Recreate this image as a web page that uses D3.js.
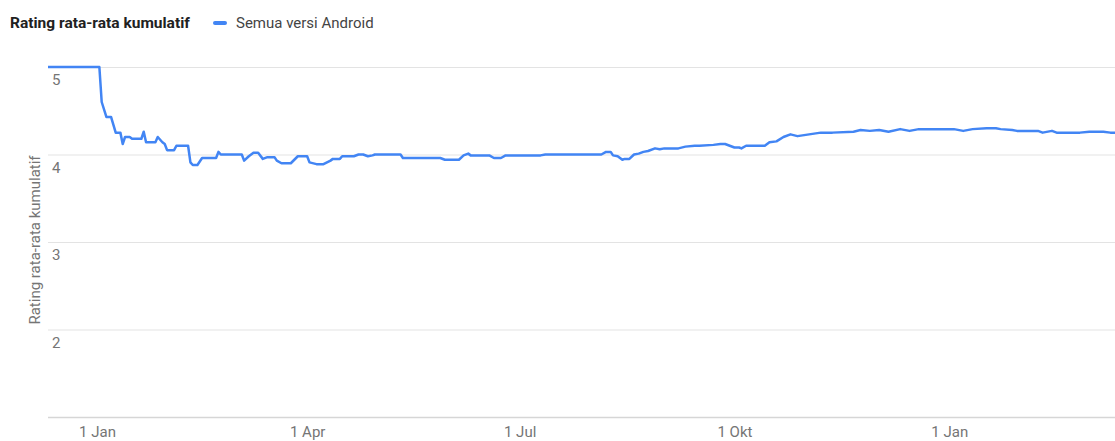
<!DOCTYPE html>
<html>
<head>
<meta charset="utf-8">
<script src="https://cdn.jsdelivr.net/npm/d3@7"></script>
<style>
  body { margin: 0; background: #fff; }
  svg { display: block; font-family: Roboto, Arial, sans-serif; }
</style>
</head>
<body>
<div id="chart"></div>
<script>
const canvas_w  =   1115;
const canvas_h  =   441;

// data
const dates = [
  '2018-12-11','2019-01-02','2019-01-03','2019-01-05','2019-01-07','2019-01-09','2019-01-11','2019-01-12',
  '2019-01-13','2019-01-15','2019-01-16','2019-01-20','2019-01-21','2019-01-22','2019-01-26','2019-01-27',
  '2019-01-29','2019-01-30','2019-01-31','2019-02-03','2019-02-04','2019-02-09','2019-02-10','2019-02-11',
  '2019-02-13','2019-02-14','2019-02-15','2019-02-21','2019-02-22','2019-02-23','2019-03-04','2019-03-05',
  '2019-03-07','2019-03-09','2019-03-11','2019-03-13','2019-03-15','2019-03-18','2019-03-19','2019-03-21',
  '2019-03-25','2019-03-28','2019-04-01','2019-04-02','2019-04-05','2019-04-08','2019-04-11','2019-04-12',
  '2019-04-15','2019-04-16','2019-04-21','2019-04-23','2019-04-25','2019-04-27','2019-04-29','2019-04-30',
  '2019-05-11','2019-05-12','2019-05-28','2019-05-30','2019-06-05','2019-06-07','2019-06-09','2019-06-10',
  '2019-06-18','2019-06-20','2019-06-23','2019-06-25','2019-07-10','2019-07-12','2019-08-05','2019-08-07',
  '2019-08-09','2019-08-10','2019-08-12','2019-08-14','2019-08-15','2019-08-17','2019-08-19','2019-08-21',
  '2019-08-23','2019-08-25','2019-08-28','2019-08-30','2019-09-01','2019-09-07','2019-09-10','2019-09-14',
  '2019-09-16','2019-09-22','2019-09-25','2019-09-27','2019-10-01','2019-10-03','2019-10-04','2019-10-06',
  '2019-10-09','2019-10-14','2019-10-16','2019-10-19','2019-10-22','2019-10-25','2019-10-28','2019-11-02',
  '2019-11-07','2019-11-12','2019-11-21','2019-11-24','2019-11-28','2019-12-02','2019-12-06','2019-12-11',
  '2019-12-15','2019-12-19','2020-01-03','2020-01-07','2020-01-11','2020-01-17','2020-01-21','2020-01-23',
  '2020-01-28','2020-01-30','2020-02-08','2020-02-10','2020-02-14','2020-02-16','2020-02-26','2020-03-01',
  '2020-03-07','2020-03-10','2020-03-12'
];
const ratings = [
  5.00, 5.00, 4.60, 4.43, 4.43, 4.25, 4.25, 4.12,
  4.20, 4.20, 4.18, 4.18, 4.26, 4.14, 4.14, 4.20,
  4.14, 4.12, 4.05, 4.05, 4.10, 4.10, 3.91, 3.88,
  3.88, 3.92, 3.96, 3.96, 4.03, 4.00, 4.00, 3.93,
  3.98, 4.02, 4.02, 3.95, 3.97, 3.97, 3.93, 3.90,
  3.90, 3.98, 3.98, 3.91, 3.89, 3.89, 3.93, 3.95,
  3.95, 3.98, 3.98, 4.00, 4.00, 3.98, 3.99, 4.00,
  4.00, 3.96, 3.96, 3.94, 3.94, 3.99, 4.01, 3.99,
  3.99, 3.96, 3.96, 3.99, 3.99, 4.00, 4.00, 4.03,
  4.03, 3.99, 3.98, 3.94, 3.95, 3.95, 4.00, 4.01,
  4.03, 4.04, 4.07, 4.06, 4.07, 4.07, 4.09, 4.10,
  4.10, 4.11, 4.12, 4.12, 4.08, 4.08, 4.07, 4.10,
  4.10, 4.10, 4.14, 4.15, 4.20, 4.23, 4.21, 4.23,
  4.25, 4.25, 4.26, 4.28, 4.27, 4.28, 4.26, 4.29,
  4.27, 4.29, 4.29, 4.27, 4.29, 4.30, 4.30, 4.29,
  4.28, 4.27, 4.27, 4.25, 4.27, 4.25, 4.25, 4.26,
  4.26, 4.25, 4.25
];
const x_ticks   =   [ '2019-01-01', '2019-04-01', '2019-07-01', '2019-10-01', '2020-01-01' ];
const x_labels  =   [ '1 Jan', '1 Apr', '1 Jul', '1 Okt', '1 Jan' ];
const y_ticks   =   [ 1, 2, 3, 4, 5 ];

const parse     =   d3.timeParse( '%Y-%m-%d' );
const points    =   dates.map( ( d, i ) => ( { date: parse( d ), value: ratings[ i ] } ) );

const margin    =   { left: 48, right: 0, top: 67, bottom: 24 };

let x           =   d3.scaleTime()
                          .domain( [ parse( '2018-12-11' ), parse( '2020-03-12' ) ] )
                          .range( [ margin.left, canvas_w - margin.right ] );

let y           =   d3.scaleLinear()
                          .domain( [ 1, 5 ] )
                          .range( [ canvas_h - margin.bottom, margin.top ] );

let svg         =   d3.select( '#chart' )
                      .append( 'svg' )
                      .attr( 'width', canvas_w )
                      .attr( 'height', canvas_h );

// title + legend
svg.append( 'text' )
   .attr( 'x', 10 ).attr( 'y', 28 )
   .attr( 'font-size', 15.5 ).attr( 'font-weight', 'bold' )
   .attr( 'fill', '#212121' )
   .text( 'Rating rata-rata kumulatif' );

svg.append( 'line' )
   .attr( 'x1', 215 ).attr( 'x2', 225 ).attr( 'y1', 23 ).attr( 'y2', 23 )
   .attr( 'stroke', '#4285f4' ).attr( 'stroke-width', 4 ).attr( 'stroke-linecap', 'round' );

svg.append( 'text' )
   .attr( 'x', 236 ).attr( 'y', 28 )
   .attr( 'font-size', 15 ).attr( 'fill', '#444' )
   .text( 'Semua versi Android' );

// gridlines
let yAxis = d3.axisLeft( y )
              .tickValues( y_ticks )
              .tickSize( -( canvas_w - margin.left - margin.right ) )
              .tickFormat( '' );

let gy = svg.append( 'g' )
            .attr( 'transform', `translate(${ margin.left },0)` )
            .call( yAxis );
gy.select( '.domain' ).remove();
gy.selectAll( '.tick line' )
  .attr( 'stroke', d => d === 1 ? '#d6d6d6' : '#e3e3e3' )
  .attr( 'stroke-width', d => d === 1 ? 1.5 : 1 );

// y tick labels sit under the gridline, inside the plot
svg.selectAll( 'text.ylab' )
   .data( y_ticks.filter( d => d > 1 ) )
   .enter()
   .append( 'text' )
   .attr( 'class', 'ylab' )
   .attr( 'x', 52 )
   .attr( 'y', d => y( d ) + 18 )
   .attr( 'font-size', 15 ).attr( 'fill', '#757575' )
   .text( d => d );

// x axis labels
let xAxis = d3.axisBottom( x )
              .tickValues( x_ticks.map( parse ) )
              .tickSize( 0 )
              .tickPadding( 9 )
              .tickFormat( ( d, i ) => x_labels[ i ] );

let gx = svg.append( 'g' )
            .attr( 'transform', `translate(0,${ y( 1 ) })` )
            .call( xAxis );
gx.select( '.domain' ).remove();
gx.selectAll( 'text' )
  .attr( 'font-size', 15 )
  .attr( 'font-family', 'Roboto, Arial, sans-serif' )
  .attr( 'fill', '#757575' );

// y axis title
svg.append( 'text' )
   .attr( 'transform', `translate(40,240) rotate(-90)` )
   .attr( 'text-anchor', 'middle' )
   .attr( 'font-size', 15 ).attr( 'fill', '#757575' )
   .text( 'Rating rata-rata kumulatif' );

// the line
let line = d3.line()
             .x( d => x( d.date ) )
             .y( d => y( d.value ) );

svg.append( 'path' )
   .datum( points )
   .attr( 'd', line )
   .attr( 'fill', 'none' )
   .attr( 'stroke', '#4285f4' )
   .attr( 'stroke-width', 2.5 )
   .attr( 'stroke-linejoin', 'round' );
</script>
</body>
</html>
